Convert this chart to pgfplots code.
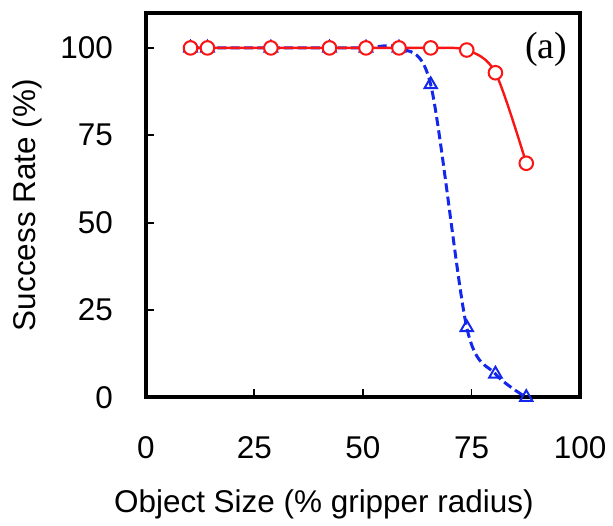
\documentclass[border=0pt]{standalone}
\usepackage{fontspec}
\setmainfont{Liberation Sans}
\newfontfamily\serifa{Liberation Serif}
\usepackage{pgfplots}
\pgfplotsset{compat=1.18}
\definecolor{cred}{RGB}{250,20,20}
\definecolor{cblue}{RGB}{20,40,235}

\begin{document}
\begin{tikzpicture}
\begin{axis}[
  scale only axis,
  width=217.5pt, height=192.5pt,
  xmin=0, xmax=100, ymin=0, ymax=110,
  xtick={0,25,50,75,100}, ytick={0,25,50,75,100},
  tick align=inside, xtick pos=bottom, ytick pos=left,
  major tick length=4pt,
  tick style={black, line width=0.9pt},
  axis line style={line width=2pt},
  clip=false,
  /pgf/number format/assume math mode=true,
  font=\fontsize{15.75}{18}\selectfont,
  xticklabel style={yshift=-16pt},
  yticklabel style={xshift=-13pt},
  xlabel={Object Size (\% gripper radius)},
  ylabel={Success Rate (\%)},
  xlabel style={at={(axis description cs:0.41,-0.2987)}, anchor=base},
  ylabel style={at={(axis description cs:-0.2736,0.5)}, anchor=center},
]
% blue: dashed with triangles (drawn first)
\addplot[cblue, line width=1.5pt, dash pattern=on 4.5pt off 2.2pt, smooth,
  mark=triangle, mark size=3.6pt,
  mark options={solid, fill=white, line width=1pt}] coordinates {
  (10.3,100)(14.2,100)(28.8,100)(42.3,100)(50.7,100)(58.3,100)
  (65.6,89.5)(73.9,20)(80.5,6.7)(87.6,0)
};
% red: solid with circles
\addplot[cred, line width=1.2pt, smooth,
  mark=*, mark size=3.4pt,
  mark options={fill=white, line width=1pt}] coordinates {
  (10.3,100)(14.2,100)(28.8,100)(42.3,100)(50.7,100)(58.3,100)
  (65.6,100)(73.9,99.4)(80.5,92.9)(87.6,67)
};
\node[font=\serifa\fontsize{19}{22}\selectfont] at (axis cs:92.2,99.7) {(a)};
\end{axis}
\path[use as bounding box] ([xshift=-73pt,yshift=-63.5pt]current axis.south west)
  rectangle ([xshift=16pt,yshift=6.5pt]current axis.north east);
\end{tikzpicture}
\end{document}
